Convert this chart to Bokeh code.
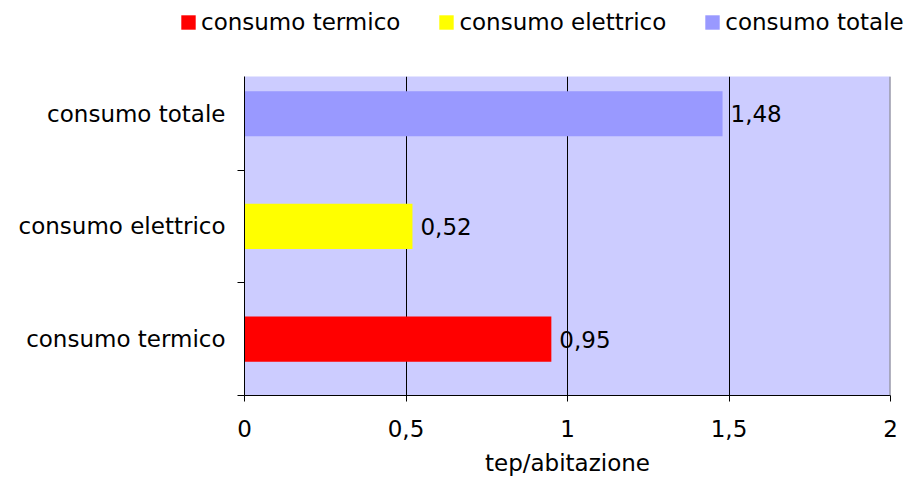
from bokeh.plotting import figure
from bokeh.models import ColumnDataSource, FixedTicker, Legend, LegendItem, Span, Range1d
from bokeh.core.properties import value
from bokeh.embed import file_html
from bokeh.resources import INLINE

categories = ["consumo termico", "consumo elettrico", "consumo totale"]
values = [0.95, 0.52, 1.48]
colors = ["#FF0000", "#FFFF00", "#9999FF"]
value_labels = ["0,95", "0,52", "1,48"]
x_ticks = [0, 0.5, 1, 1.5, 2]
x_tick_labels = ["0", "0,5", "1", "1,5", "2"]

FONT = "DejaVu Sans"
FS = "23px"

ypos = [i + 0.5 for i in range(len(categories))]
src = ColumnDataSource(dict(y=ypos, v=values, c=colors, cat=categories, lab=value_labels))

# ---- legend strip on top (separate root) ----
LH = 60
lg = figure(width=913, height=LH, output_backend="svg", toolbar_location=None,
            x_range=Range1d(0, 1), y_range=Range1d(0, 1),
            min_border_left=0, min_border_right=0, min_border_top=0, min_border_bottom=0)
lg.axis.visible = False
lg.grid.visible = False
lg.outline_line_color = None
lg.background_fill_color = "white"
dummy = []
for c in colors:
    dummy.append(lg.hbar(y=[0.5], left=[5], right=[6], height=0.5, fill_color=c, line_color=None))
items = [LegendItem(label=cat, renderers=[rr]) for cat, rr in zip(categories, dummy)]
legend = Legend(items=items, orientation="horizontal", location=(179, 25),
                label_text_font=FONT, label_text_font_size=FS, label_text_color="black",
                glyph_width=18, glyph_height=18, label_standoff=4, spacing=37,
                padding=0, margin=0, border_line_color=None, background_fill_alpha=0,
                label_height=22)
lg.add_layout(legend, "center")

# ---- main plot ----
p = figure(width=913, height=423, output_backend="svg", toolbar_location=None,
           x_range=Range1d(0, 2), y_range=Range1d(0, 2.83),
           min_border_left=244, min_border_right=23, min_border_top=76 - LH, min_border_bottom=88)
p.background_fill_color = "#CCCCFF"
p.border_fill_color = "white"
p.outline_line_color = None

r = p.hbar(y="y", right="v", left=0, height=0.40, fill_color="c", line_color=None, source=src)
p.text(x="v", y="y", text="lab", source=src, x_offset=8, text_baseline="middle",
       text_align="left", text_font=value(FONT), text_font_size=FS, text_color="black")

p.add_layout(Span(location=2, dimension="height", line_color="#808080", line_width=2))

p.xaxis.ticker = FixedTicker(ticks=x_ticks)
p.xaxis.major_label_overrides = {t: l for t, l in zip(x_ticks, x_tick_labels)}
p.xaxis.axis_label = "tep/abitazione"
p.xaxis.axis_label_text_font = FONT
p.xaxis.axis_label_text_font_size = FS
p.xaxis.axis_label_text_font_style = "normal"
p.xaxis.axis_label_text_color = "black"
p.xaxis.axis_label_standoff = 10
p.xaxis.major_label_text_font = FONT
p.xaxis.major_label_text_font_size = FS
p.xaxis.major_label_text_color = "black"
p.xaxis.major_label_standoff = 18
p.xaxis.major_tick_out = 6
p.xaxis.major_tick_in = 0
p.xaxis.minor_tick_line_color = None
p.xaxis.axis_line_color = "black"
p.xaxis.major_tick_line_color = "black"

p.yaxis.ticker = FixedTicker(ticks=ypos, minor_ticks=[0, 1, 2])
p.yaxis.major_label_overrides = {y: c for y, c in zip(ypos, categories)}
p.yaxis.major_label_text_font = FONT
p.yaxis.major_label_text_font_size = FS
p.yaxis.major_label_text_color = "black"
p.yaxis.major_label_standoff = 12
p.yaxis.major_tick_out = 0
p.yaxis.major_tick_in = 0
p.yaxis.minor_tick_out = 7
p.yaxis.minor_tick_in = 0
p.yaxis.minor_tick_line_color = "black"
p.yaxis.axis_line_color = "black"

p.xgrid.ticker = FixedTicker(ticks=[0.5, 1, 1.5])
p.xgrid.grid_line_color = "black"
p.xgrid.grid_line_width = 1
p.ygrid.grid_line_color = None

open("out.html", "w").write(file_html([lg, p], INLINE))
